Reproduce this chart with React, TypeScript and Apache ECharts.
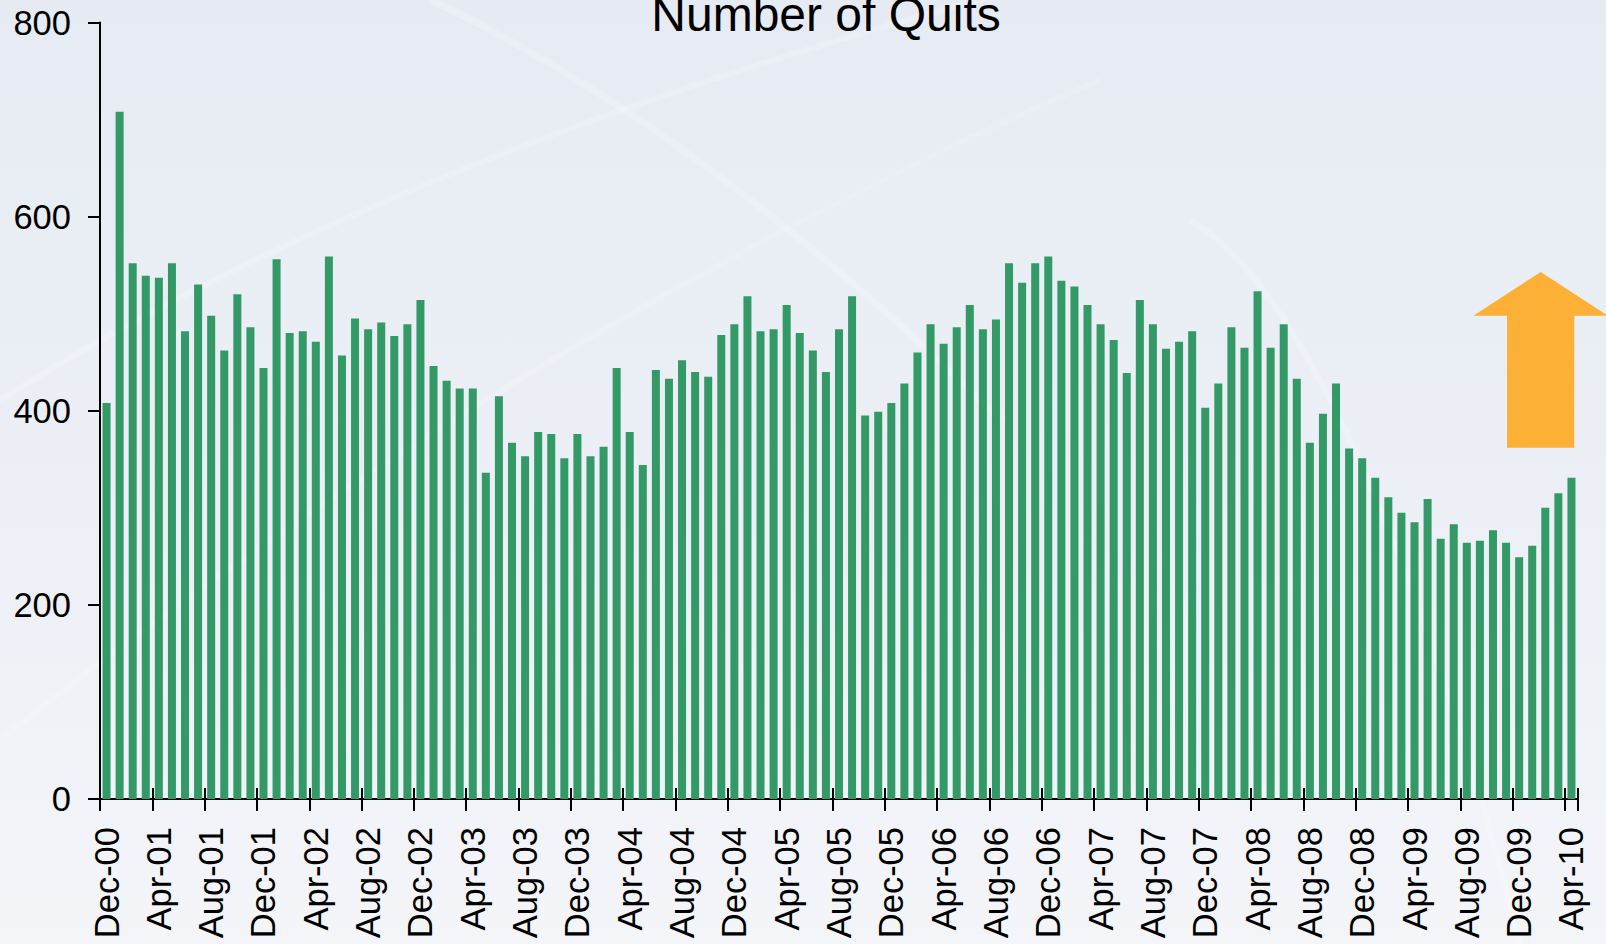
import React, { useEffect, useRef } from "react";
import * as echarts from "echarts";

const months: string[] = [
  "Dec-00",
  "Jan-01", "Feb-01", "Mar-01", "Apr-01", "May-01", "Jun-01", "Jul-01", "Aug-01", "Sep-01", "Oct-01", "Nov-01", "Dec-01",
  "Jan-02", "Feb-02", "Mar-02", "Apr-02", "May-02", "Jun-02", "Jul-02", "Aug-02", "Sep-02", "Oct-02", "Nov-02", "Dec-02",
  "Jan-03", "Feb-03", "Mar-03", "Apr-03", "May-03", "Jun-03", "Jul-03", "Aug-03", "Sep-03", "Oct-03", "Nov-03", "Dec-03",
  "Jan-04", "Feb-04", "Mar-04", "Apr-04", "May-04", "Jun-04", "Jul-04", "Aug-04", "Sep-04", "Oct-04", "Nov-04", "Dec-04",
  "Jan-05", "Feb-05", "Mar-05", "Apr-05", "May-05", "Jun-05", "Jul-05", "Aug-05", "Sep-05", "Oct-05", "Nov-05", "Dec-05",
  "Jan-06", "Feb-06", "Mar-06", "Apr-06", "May-06", "Jun-06", "Jul-06", "Aug-06", "Sep-06", "Oct-06", "Nov-06", "Dec-06",
  "Jan-07", "Feb-07", "Mar-07", "Apr-07", "May-07", "Jun-07", "Jul-07", "Aug-07", "Sep-07", "Oct-07", "Nov-07", "Dec-07",
  "Jan-08", "Feb-08", "Mar-08", "Apr-08", "May-08", "Jun-08", "Jul-08", "Aug-08", "Sep-08", "Oct-08", "Nov-08", "Dec-08",
  "Jan-09", "Feb-09", "Mar-09", "Apr-09", "May-09", "Jun-09", "Jul-09", "Aug-09", "Sep-09", "Oct-09", "Nov-09", "Dec-09",
  "Jan-10", "Feb-10", "Mar-10", "Apr-10",
];

const quits2000: number[] = [408];
const quits2001: number[] = [708, 552, 539, 537, 552, 482, 530, 498, 462, 520, 486, 444];
const quits2002: number[] = [556, 480, 482, 471, 559, 457, 495, 484, 491, 477, 489, 514];
const quits2003: number[] = [446, 431, 423, 423, 336, 415, 367, 353, 378, 376, 351, 376];
const quits2004: number[] = [353, 363, 444, 378, 344, 442, 433, 452, 440, 435, 478, 489];
const quits2005: number[] = [518, 482, 484, 509, 480, 462, 440, 484, 518, 395, 399, 408];
const quits2006: number[] = [428, 460, 489, 469, 486, 509, 484, 494, 552, 532, 552, 559];
const quits2007: number[] = [534, 528, 509, 489, 473, 439, 514, 489, 464, 471, 482, 403];
const quits2008: number[] = [428, 486, 465, 523, 465, 489, 433, 367, 397, 428, 361, 351];
const quits2009: number[] = [331, 311, 295, 285, 309, 268, 283, 264, 266, 277, 264, 249];
const quits2010: number[] = [261, 300, 315, 331];

const yTicks = { min: 0, max: 800, interval: 200 };
const titleText = "Number of Quits";

const quits: number[] = [
  ...quits2000, ...quits2001, ...quits2002, ...quits2003, ...quits2004, ...quits2005,
  ...quits2006, ...quits2007, ...quits2008, ...quits2009, ...quits2010,
];

const FONT = "'Liberation Sans', Arial, Helvetica, sans-serif";
const STREAK = "rgba(255,255,255,0.2)";

export default function App() {
  const ref = useRef<HTMLDivElement>(null);
  useEffect(() => {
    if (!ref.current) return;
    const chart = echarts.init(ref.current, undefined, { renderer: "svg" });
    chart.setOption({
      animation: false,
      backgroundColor: {
        type: "linear",
        x: 0, y: 0, x2: 0, y2: 1,
        colorStops: [
          { offset: 0, color: "#e6ebf3" },
          { offset: 0.6, color: "#edf0f6" },
          { offset: 1, color: "#f3f5f9" },
        ],
      },
      graphic: [
        {
          type: "bezierCurve",
          silent: true,
          z: -10,
          shape: { x1: 0, y1: 400, x2: 1606, y2: -150, cpx1: 400, cpy1: 150, cpx2: 900, cpy2: 0 },
          style: { stroke: STREAK, lineWidth: 6, fill: null },
        },
        {
          type: "bezierCurve",
          silent: true,
          z: -10,
          shape: { x1: 430, y1: 0, x2: 1000, y2: 420, cpx1: 600, cpy1: 80, cpx2: 800, cpy2: 220 },
          style: { stroke: STREAK, lineWidth: 7, fill: null },
        },
        {
          type: "bezierCurve",
          silent: true,
          z: -10,
          shape: { x1: 1190, y1: 220, x2: 1520, y2: 944, cpx1: 1330, cpy1: 300, cpx2: 1460, cpy2: 700 },
          style: { stroke: STREAK, lineWidth: 6, fill: null },
        },
        {
          type: "bezierCurve",
          silent: true,
          z: -10,
          shape: { x1: 0, y1: 740, x2: 1100, y2: 80, cpx1: 300, cpy1: 500, cpx2: 700, cpy2: 250 },
          style: { stroke: "rgba(255,255,255,0.15)", lineWidth: 6, fill: null },
        },
        {
          type: "text",
          x: 826,
          y: 14.4,
          style: {
            text: titleText,
            font: `48px ${FONT}`,
            fill: "#000000",
            align: "center",
            verticalAlign: "middle",
          },
        },
        {
          type: "polygon",
          z: 10,
          shape: {
            points: [
              [1540.7, 272],
              [1608, 315.7],
              [1574.3, 315.7],
              [1574.3, 447.7],
              [1507, 447.7],
              [1507, 315.7],
              [1473.3, 315.7],
            ],
          },
          style: { fill: "#fcb035" },
        },
      ],
      grid: { left: 100, right: 28, top: 22.5, bottom: 145, containLabel: false },
      xAxis: [
        {
          type: "category",
          data: months,
          boundaryGap: true,
          position: "bottom",
          axisLine: { show: true, lineStyle: { color: "#000", width: 2 } },
          axisTick: { show: true, interval: 3, length: 12, lineStyle: { color: "#000", width: 2 } },
          axisLabel: {
            interval: 3,
            rotate: 90,
            fontSize: 34.5,
            fontFamily: FONT,
            color: "#000",
            margin: 28,
          },
          splitLine: { show: false },
        },
        {
          type: "category",
          data: months,
          boundaryGap: true,
          position: "bottom",
          axisLine: { show: false },
          axisTick: { show: true, inside: true, interval: 3, length: 11, lineStyle: { color: "#000", width: 2 } },
          axisLabel: { show: false },
          splitLine: { show: false },
        },
      ],
      yAxis: {
        type: "value",
        min: yTicks.min,
        max: yTicks.max,
        interval: yTicks.interval,
        axisLine: { show: true, lineStyle: { color: "#000", width: 2 } },
        axisTick: { show: true, length: 12, lineStyle: { color: "#000", width: 2 } },
        axisLabel: { fontSize: 34.5, fontFamily: FONT, color: "#000", margin: 29 },
        splitLine: { show: false },
      },
      series: [
        {
          type: "bar",
          data: quits,
          xAxisIndex: 0,
          barWidth: 8,
          itemStyle: { color: "#339966" },
        },
      ],
    });
    return () => chart.dispose();
  }, []);
  return (
    <div
      ref={ref}
      style={{ position: "fixed", left: 0, top: 0, width: 1606, height: 944 }}
    />
  );
}
